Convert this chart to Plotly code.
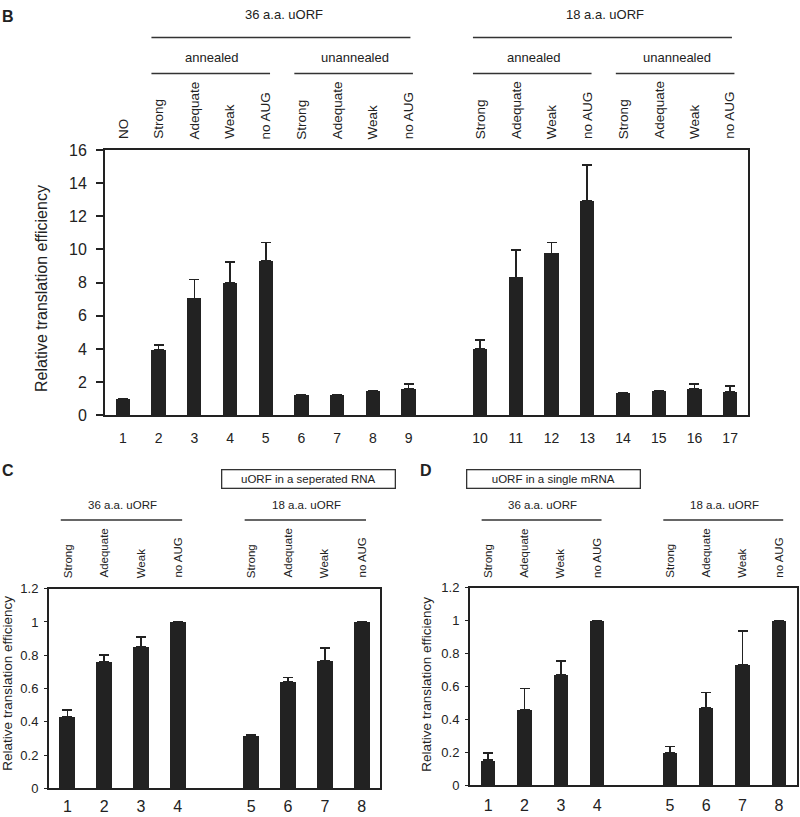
import plotly.graph_objects as go

# ---------------- data ----------------
# Panel B
B_top_labels = ["NO", "Strong", "Adequate", "Weak", "no AUG", "Strong", "Adequate", "Weak", "no AUG",
                "Strong", "Adequate", "Weak", "no AUG", "Strong", "Adequate", "Weak", "no AUG"]
B_numbers = [str(i) for i in range(1, 18)]
B_values = [1.0, 3.95, 7.05, 7.97, 9.33, 1.24, 1.2, 1.44, 1.6,
            4.0, 8.32, 9.76, 12.95, 1.32, 1.48, 1.6, 1.42]
B_err = [0.0, 0.3, 1.15, 1.28, 1.1, 0.02, 0.04, 0.05, 0.29,
         0.55, 1.66, 0.67, 2.15, 0.03, 0.02, 0.3, 0.35]
B_groups = [9, 8]  # bars per block, separated by an empty slot

# Panel C
C_top_labels = ["Strong", "Adequate", "Weak", "no AUG", "Strong", "Adequate", "Weak", "no AUG"]
C_numbers = [str(i) for i in range(1, 9)]
C_values = [0.43, 0.763, 0.853, 1.0, 0.314, 0.641, 0.765, 1.0]
C_err = [0.04, 0.04, 0.057, 0.0, 0.006, 0.026, 0.078, 0.0]

# Panel D
D_top_labels = ["Strong", "Adequate", "Weak", "no AUG", "Strong", "Adequate", "Weak", "no AUG"]
D_numbers = [str(i) for i in range(1, 9)]
D_values = [0.153, 0.46, 0.673, 1.0, 0.198, 0.473, 0.735, 1.0]
D_err = [0.045, 0.128, 0.083, 0.0, 0.038, 0.09, 0.202, 0.0]
CD_groups = [4, 4]

CD_yticks = [0, 0.2, 0.4, 0.6, 0.8, 1, 1.2]
CD_yticktext = ["0", "0.2", "0.4", "0.6", "0.8", "1", "1.2"]

# ---------------- helpers ----------------
W, H = 800, 817
FONT = "Liberation Sans, Arial, sans-serif"
BAR = "#222222"


def px(x):
    return x / W


def py(y):
    return 1 - y / H


def positions(groups):
    pos, start = [], 0
    for g in groups:
        pos += list(range(start, start + g))
        start += g + 1
    return pos


B_pos = positions(B_groups)
C_pos = positions(CD_groups)
D_pos = positions(CD_groups)

fig = go.Figure()


def add_bars(xa, ya, pos, vals, err, width):
    fig.add_trace(go.Bar(
        x=pos, y=vals, width=width, marker=dict(color=BAR, line=dict(width=0)),
        error_y=dict(type="data", array=err, arrayminus=[0] * len(err), symmetric=False,
                     color=BAR, thickness=1.6, width=5),
        xaxis=xa, yaxis=ya, showlegend=False, hoverinfo="x+y"))


add_bars("x", "y", B_pos, B_values, B_err, 0.4)
add_bars("x2", "y2", C_pos, C_values, C_err, 0.43)
add_bars("x3", "y3", D_pos, D_values, D_err, 0.4)

axis_common = dict(showline=True, mirror=True, linecolor="#222", linewidth=2,
                   showgrid=False, zeroline=False)

fig.update_layout(
    width=W, height=H, autosize=False,
    margin=dict(l=0, r=0, t=0, b=0),
    paper_bgcolor="white", plot_bgcolor="white",
    font=dict(family=FONT, color="#222"),
    bargap=0,
    xaxis=dict(domain=[px(105), px(748)], range=[-0.5, 17.5], anchor="y",
               tickmode="array", tickvals=B_pos, ticktext=B_numbers, ticks="",
               tickfont=dict(size=14), ticklabelstandoff=9, **axis_common),
    yaxis=dict(domain=[py(416), py(145)], range=[0, 16], anchor="x",
               tickmode="array", tickvals=list(range(0, 17, 2)), ticks="outside",
               ticklen=7, tickwidth=1.5, tickcolor="#222",
               tickfont=dict(size=16), ticklabelstandoff=6, **axis_common),
    xaxis2=dict(domain=[px(49), px(380)], range=[-0.5, 8.5], anchor="y2",
                tickmode="array", tickvals=C_pos, ticktext=C_numbers, ticks="",
                tickfont=dict(size=16), ticklabelstandoff=2, **axis_common),
    yaxis2=dict(domain=[py(797), py(593)], range=[0, 1.2], anchor="x2",
                tickmode="array", tickvals=CD_yticks, ticktext=CD_yticktext,
                ticks="outside", ticklen=3, tickwidth=1.2, tickcolor="#222",
                tickfont=dict(size=13), ticklabelstandoff=3, **axis_common),
    xaxis3=dict(domain=[px(470), px(797)], range=[-0.5, 8.5], anchor="y3",
                tickmode="array", tickvals=D_pos, ticktext=D_numbers, ticks="",
                tickfont=dict(size=16), ticklabelstandoff=4, **axis_common),
    yaxis3=dict(domain=[py(794), py(592)], range=[0, 1.2], anchor="x3",
                tickmode="array", tickvals=CD_yticks, ticktext=CD_yticktext,
                ticks="outside", ticklen=3, tickwidth=1.2, tickcolor="#222",
                tickfont=dict(size=13), ticklabelstandoff=3, **axis_common),
)

annotations = []
shapes = []


def text(x, y, s, size, xref="paper", bold=False, angle=0, xanchor="center", yanchor="middle"):
    annotations.append(dict(
        x=x, y=y, xref=xref, yref="paper", text=("<b>%s</b>" % s) if bold else s,
        showarrow=False, textangle=angle, xanchor=xanchor, yanchor=yanchor,
        font=dict(size=size, family=FONT, color="#222")))


def hline(xref, x0, x1, y):
    shapes.append(dict(type="line", xref=xref, yref="paper", x0=x0, x1=x1,
                       y0=py(y), y1=py(y), line=dict(color="#333", width=1.5)))


# rotated category labels
for p, lab in zip(B_pos, B_top_labels):
    text(p, py(136), lab, 13.5, xref="x", angle=-90, yanchor="bottom")
for p, lab in zip(C_pos, C_top_labels):
    text(p, py(584), lab, 11.5, xref="x2", angle=-90, yanchor="bottom")
for p, lab in zip(D_pos, D_top_labels):
    text(p, py(584), lab, 11.5, xref="x3", angle=-90, yanchor="bottom")

# Panel B group headers
b1 = B_pos[1:9]
b2 = B_pos[9:17]
for grp, name in [(b1, "36 a.a. uORF"), (b2, "18 a.a. uORF")]:
    hline("x", grp[0] - 0.2, grp[-1] + 0.05, 30)
    text((grp[0] + grp[-1]) / 2, py(7), name, 13, xref="x")
    for sub, subname in [(grp[:4], "annealed"), (grp[4:], "unannealed")]:
        hline("x", sub[0] - 0.2, sub[-1] + 0.12, 67)
        text((sub[0] + sub[-1]) / 2, py(51), subname, 13, xref="x")

# Panels C, D group headers
for xref, pos in [("x2", C_pos), ("x3", D_pos)]:
    for grp, name in [(pos[:4], "36 a.a. uORF"), (pos[4:], "18 a.a. uORF")]:
        hline(xref, grp[0] - 0.18, grp[-1] + 0.12, 523)
        text((grp[0] + grp[-1]) / 2, py(508), name, 11.5, xref=xref)

# boxed titles
for cx, s in [(220.5, "uORF in a seperated RNA"), (640.5, "uORF in a single mRNA")]:
    annotations.append(dict(
        x=px(cx), y=py(481), xref="paper", yref="paper", text=s, showarrow=False,
        width=170, height=15, bordercolor="#333", borderwidth=1.3, borderpad=1,
        font=dict(size=11.5, family=FONT, color="#222")))

# y-axis titles
text(px(41), py(287), "Relative translation efficiency", 16, angle=-90)
text(px(8), py(690), "Relative translation efficiency", 13.5, angle=-90)
text(px(427), py(690), "Relative translation efficiency", 13.5, angle=-90)

# panel letters
text(px(8), py(9), "B", 16, bold=True)
text(px(8), py(472), "C", 16, bold=True)
text(px(426), py(472), "D", 16, bold=True)

fig.update_layout(annotations=annotations, shapes=shapes)
fig.write_html("out.html", config={"displayModeBar": False},
               post_script="document.body.style.margin='0px';document.body.style.overflow='hidden';")
